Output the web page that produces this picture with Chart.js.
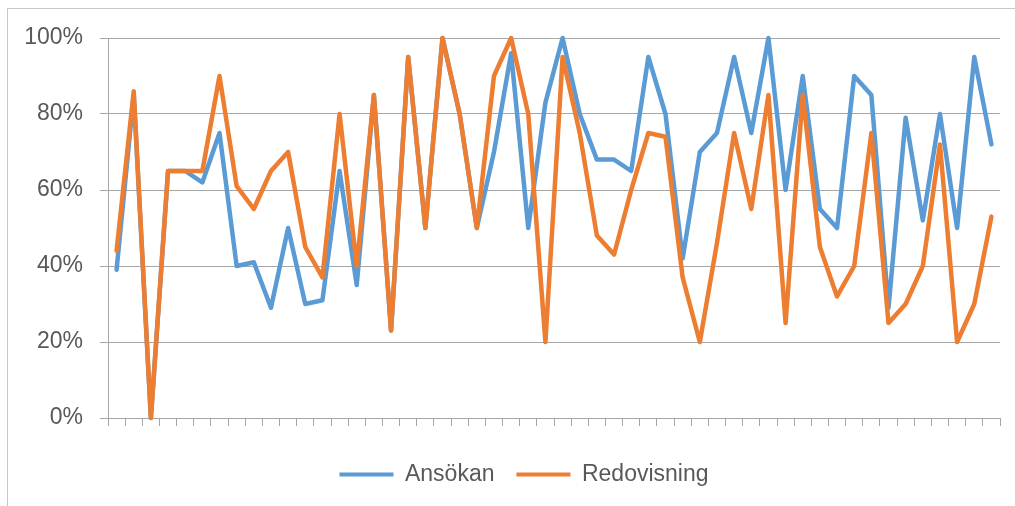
<!DOCTYPE html>
<html>
<head>
<meta charset="utf-8">
<script src="https://cdn.jsdelivr.net/npm/chart.js@4.4.1/dist/chart.umd.min.js"></script>
<style>
  html, body { margin: 0; padding: 0; background: #ffffff; }
  #wrap { position: relative; width: 1015px; height: 506px; }
</style>
</head>
<body>
<div id="wrap"><canvas id="chart" width="1015" height="506"></canvas></div>
<script>
const categories = ['1', '2', '3', '4', '5', '6', '7', '8', '9', '10', '11', '12', '13',
    '14', '15', '16', '17', '18', '19', '20', '21', '22', '23', '24', '25', '26',
    '27', '28', '29', '30', '31', '32', '33', '34', '35', '36', '37', '38', '39',
    '40', '41', '42', '43', '44', '45', '46', '47', '48', '49', '50', '51', '52'];

const ansokan = [39, 85, 0, 65, 65, 62, 75, 40, 41, 29, 50, 30, 31, 65, 35, 85, 23, 95,
    50, 100, 80, 50, 70, 96, 50, 83, 100, 80, 68, 68, 65, 95, 80, 42, 70, 75,
    95, 75, 100, 60, 90, 55, 50, 90, 85, 29, 79, 52, 80, 50, 95, 72];

const redovisning = [44, 86, 0, 65, 65, 65, 90, 61, 55, 65, 70, 45, 37, 80, 40, 85, 23, 95,
    50, 100, 80, 50, 90, 100, 80, 20, 95, 75, 48, 43, 60, 75, 74, 37, 20, 46,
    75, 55, 85, 25, 85, 45, 32, 40, 75, 25, 30, 40, 72, 20, 30, 53];

const yTicks = [0, 20, 40, 60, 80, 100];

const font = { family: "'Liberation Sans', Arial, sans-serif", size: 23 };
const textColor = '#595959';
const gridColor = '#a6a6a6';

// thin frame like the Excel chart border, and legend nudged right
const framePlugin = {
    id: 'frame',
    afterLayout(chart) {
        chart.legend.left += 24;
        chart.legend.right += 24;
    },
    beforeDraw(chart) {
        const ctx = chart.ctx;
        ctx.save();
        ctx.fillStyle = '#ffffff';
        ctx.fillRect(0, 0, chart.width, chart.height);
        ctx.strokeStyle = '#c8c8c8';
        ctx.lineWidth = 1;
        ctx.strokeRect(7.5, 8.5, 1200, 700);
        ctx.restore();
    },
};

new Chart(document.getElementById('chart'), {
    type: 'line',
    data: {
        labels: categories,
        datasets: [
            {
                label: 'Ansökan',
                data: ansokan,
                borderColor: '#5b9bd5',
                backgroundColor: '#5b9bd5',
                borderWidth: 4.5,
                pointRadius: 0,
                tension: 0,
                borderJoinStyle: 'round',
                borderCapStyle: 'round',
                clip: false,
                order: 2,
            },
            {
                label: 'Redovisning',
                data: redovisning,
                borderColor: '#ed7d31',
                backgroundColor: '#ed7d31',
                borderWidth: 4.5,
                pointRadius: 0,
                tension: 0,
                borderJoinStyle: 'round',
                borderCapStyle: 'round',
                clip: false,
                order: 1,
            },
        ],
    },
    options: {
        responsive: false,
        animation: false,
        layout: { padding: { top: 38, right: 15, bottom: 10, left: 0 } },
        plugins: {
            tooltip: { enabled: false },
            legend: {
                position: 'bottom',
                labels: {
                    font,
                    color: textColor,
                    boxWidth: 54,
                    boxHeight: 4,
                    padding: 22,
                    sort: (a, b) => a.datasetIndex - b.datasetIndex,
                    generateLabels(chart) {
                        const items = Chart.defaults.plugins.legend.labels.generateLabels(chart);
                        items.forEach(it => { it.lineWidth = 0; });
                        return items;
                    },
                },
            },
        },
        scales: {
            x: {
                offset: true,
                afterFit(scale) { scale.height += 15; },
                grid: {
                    offset: true,
                    drawOnChartArea: false,
                    drawTicks: true,
                    tickLength: 8,
                    color: gridColor,
                },
                border: { color: gridColor, width: 1 },
                ticks: { display: false },
            },
            y: {
                min: 0,
                max: 100,
                afterBuildTicks(scale) {
                    scale.ticks = yTicks.map(v => ({ value: v }));
                },
                afterFit(scale) { scale.width = 108; },
                grid: { color: gridColor, tickLength: 8, lineWidth: 1 },
                border: { color: gridColor, width: 1 },
                ticks: {
                    font,
                    color: textColor,
                    padding: 17,
                    callback: v => v + '%',
                },
            },
        },
    },
    plugins: [framePlugin],
});
</script>
</body>
</html>
